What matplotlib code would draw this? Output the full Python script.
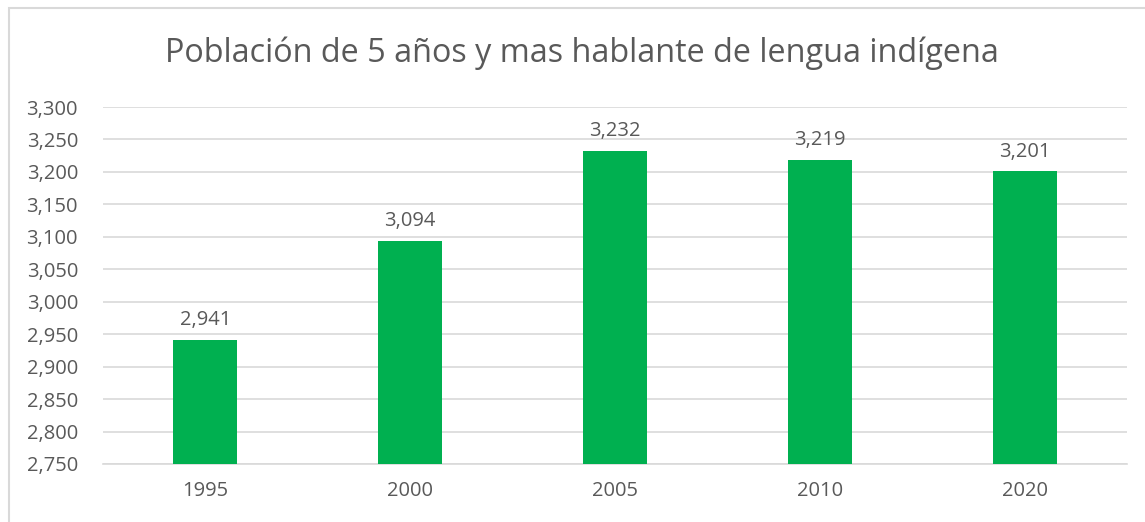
import matplotlib
matplotlib.use('Agg')
import matplotlib.pyplot as plt
from matplotlib.patches import Rectangle

years = ['1995', '2000', '2005', '2010', '2020']
values = [2941, 3094, 3232, 3219, 3201]
title = 'Población de 5 años y mas hablante de lengua indígena'

plt.rcParams['font.family'] = ['Open Sans', 'DejaVu Sans']
text_color = '#595959'
grid_color = '#D9D9D9'
bar_color = '#00B050'

W, H = 1145, 522
fig = plt.figure(figsize=(W / 100, H / 100), dpi=100)

# chart border (runs off the right and bottom edges)
fig.patches.append(Rectangle((9 / W, -0.1), 1.2, (H - 8) / H + 0.1,
                             transform=fig.transFigure, fill=False,
                             edgecolor=grid_color, linewidth=1.5))

ax = fig.add_axes([103 / W, 1 - 464 / H, (1127 - 103) / W, (464 - 107) / H])
x = range(len(years))
bars = ax.bar(x, values, width=0.3125, color=bar_color, zorder=3)

ax.set_xlim(-0.5, len(years) - 0.5)
ax.set_ylim(2750, 3300)
ax.set_yticks(range(2750, 3301, 50))
ax.yaxis.set_major_formatter(matplotlib.ticker.FuncFormatter(lambda v, p: f'{int(v):,}'))
ax.set_xticks(list(x))
ax.set_xticklabels(years)
ax.grid(axis='y', color=grid_color, linewidth=1.2, zorder=0)
for s in ['top', 'right', 'left']:
    ax.spines[s].set_visible(False)
ax.spines['bottom'].set_color(grid_color)
ax.spines['bottom'].set_linewidth(1.2)
ax.tick_params(length=0, labelsize=14.5, colors=text_color)
ax.tick_params(axis='x', pad=12)
ax.tick_params(axis='y', pad=18)

for b, v in zip(bars, values):
    ax.annotate(f'{v:,}', (b.get_x() + b.get_width() / 2, v),
                xytext=(0, 7), textcoords='offset points',
                ha='center', va='bottom', fontsize=14.5, color=text_color)

fig.text(582 / W, 1 - 53 / H, title, ha='center', va='center',
         fontsize=23.3, color=text_color)

fig.savefig('out.png', dpi=100)
